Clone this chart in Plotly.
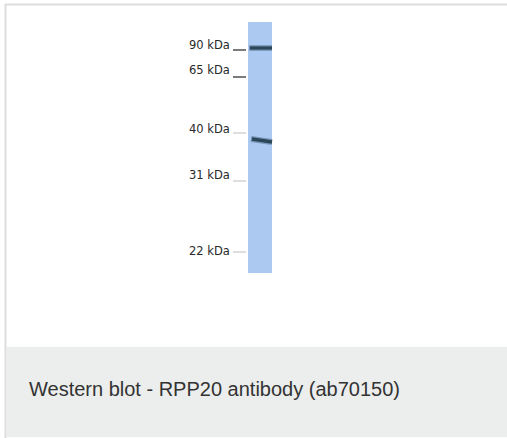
import plotly.graph_objects as go

# Marker ladder (labels and their migration positions, in px from top)
marker_labels = ["90 kDa", "65 kDa", "40 kDa", "31 kDa", "22 kDa"]
marker_text_y = [45.3, 70.3, 128.7, 175.3, 251.3]
marker_tick_y = [50, 77, 133, 181, 252]
marker_tick_dark = [True, True, False, False, False]

# Lane extent
lane_x = [248, 272]
lane_y = [22, 273]

# Detected bands: start/end x and y (slight slant on the lower band)
band_x0 = [249, 251]
band_x1 = [272, 272]
band_y0 = [48, 139]
band_y1 = [48, 142]
band_width = [3.2, 3.4]

caption = "Western blot - RPP20 antibody (ab70150)"

W, H = 507, 438
fig = go.Figure()

# band traces (soft halo + core)
for x0, x1, y0, y1, w in zip(band_x0, band_x1, band_y0, band_y1, band_width):
    fig.add_trace(go.Scatter(x=[x0, x1], y=[y0, y1], mode="lines",
                             line=dict(color="rgba(60,90,115,0.45)", width=w + 2.5),
                             hoverinfo="skip", showlegend=False))
    fig.add_trace(go.Scatter(x=[x0 + 1, x1], y=[y0, y1], mode="lines",
                             line=dict(color="#2b4659", width=w),
                             hoverinfo="skip", showlegend=False))

shapes = [
    # card borders
    dict(type="line", x0=5, x1=W, y0=4.5, y1=4.5, line=dict(color="#dddddd", width=2), layer="below"),
    dict(type="line", x0=5.5, x1=5.5, y0=4, y1=H, line=dict(color="#dddddd", width=2), layer="below"),
    # caption box
    dict(type="rect", x0=6.5, x1=W, y0=347, y1=437, fillcolor="#eceeed", line=dict(width=0), layer="below"),
    # lane
    dict(type="rect", x0=lane_x[0], x1=lane_x[1], y0=lane_y[0], y1=lane_y[1],
         fillcolor="#abc9f1", line=dict(width=0), layer="below"),
]
for ty, dark in zip(marker_tick_y, marker_tick_dark):
    shapes.append(dict(type="line", x0=233, x1=246, y0=ty, y1=ty,
                       line=dict(color="#222222" if dark else "#c8c8c8", width=1.2), layer="above"))

annotations = []
for lab, ty in zip(marker_labels, marker_text_y):
    annotations.append(dict(x=232, y=ty, text=lab, showarrow=False, xanchor="right", yanchor="middle",
                            font=dict(family="DejaVu Sans", size=11.5, color="#2a2a2a")))
annotations.append(dict(x=27, y=389, text=caption, showarrow=False, xanchor="left", yanchor="middle",
                        font=dict(family="Liberation Sans", size=20, color="#333333")))

fig.update_layout(
    width=W, height=H, autosize=False,
    margin=dict(l=0, r=0, t=0, b=0),
    paper_bgcolor="white", plot_bgcolor="white",
    xaxis=dict(range=[0, W], visible=False, fixedrange=True),
    yaxis=dict(range=[H, 0], visible=False, fixedrange=True),
    shapes=shapes, annotations=annotations, showlegend=False,
)
fig.write_html("out.html", config={"displayModeBar": False},
               post_script="document.body.style.margin='0';document.body.style.overflow='hidden';")
